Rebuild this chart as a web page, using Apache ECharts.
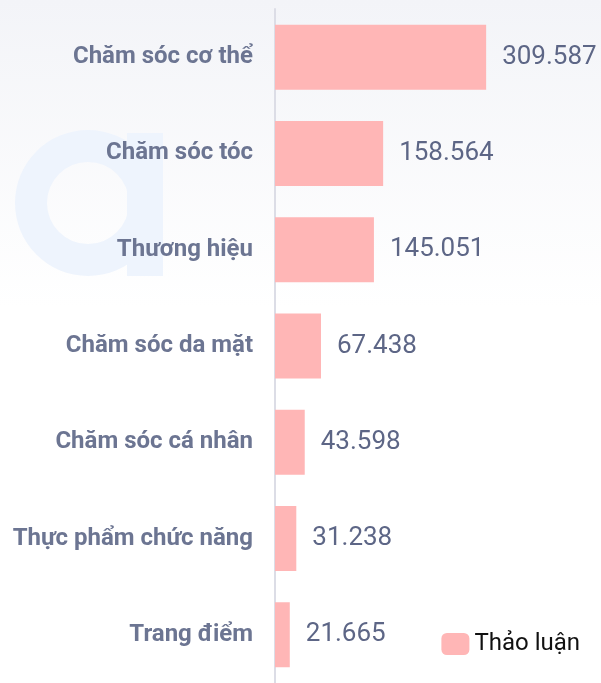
<!DOCTYPE html>
<html>
<head>
<meta charset="utf-8">
<script src="https://cdn.jsdelivr.net/npm/echarts@6/dist/echarts.min.js"></script>
<style>
  html, body { margin: 0; padding: 0; }
  #chart { width: 601px; height: 683px; }
</style>
</head>
<body>
<div id="chart"></div>
<script>
  // danh mục (từ trên xuống)
  const categories = ['Chăm sóc cơ thể', 'Chăm sóc tóc', 'Thương hiệu', 'Chăm sóc da mặt',
    'Chăm sóc cá nhân', 'Thực phẩm chức năng', 'Trang điểm']
  const discussions = [309587, 158564, 145051, 67438, 43598, 31238, 21665]
  const seriesName = 'Thảo luận'

  const chart = echarts.init(document.getElementById('chart'))

  function fmt(v) {
    return String(v).replace(/\B(?=(\d{3})+(?!\d))/g, '.')
  }

  chart.setOption({
    animation: false,
    backgroundColor: {
      type: 'linear', x: 0, y: 0, x2: 0, y2: 1,
      colorStops: [
        { offset: 0, color: '#f3f4f8' },
        { offset: 0.45, color: '#ffffff' },
        { offset: 1, color: '#ffffff' }
      ]
    },
    // chữ "a" mờ phía sau
    graphic: [
      {
        type: 'ring',
        z: -1,
        shape: { cx: 88, cy: 203, r: 73, r0: 41 },
        style: { fill: '#eef4fd' }
      },
      {
        type: 'rect',
        z: -1,
        shape: { x: 127, y: 133, width: 36, height: 143 },
        style: { fill: '#eef4fd' }
      }
    ],
    legend: {
      data: [seriesName],
      right: 16,
      bottom: 22,
      itemWidth: 28,
      itemHeight: 22,
      itemGap: 9,
      textStyle: { fontSize: 24, color: '#111', fontFamily: 'Roboto' }
    },
    grid: {
      left: 275,
      width: 326,
      top: 9,
      height: 679,
      containLabel: false
    },
    xAxis: {
      type: 'value',
      min: 0,
      max: 478000,
      show: false
    },
    yAxis: {
      type: 'category',
      inverse: true,
      data: categories,
      axisLine: { show: true, lineStyle: { color: '#dcdde6', width: 2 } },
      axisTick: { show: false },
      axisLabel: {
        margin: 22,
        fontSize: 24,
        fontWeight: 'bold',
        color: '#6c7592',
        fontFamily: 'Roboto'
      }
    },
    series: [{
      name: seriesName,
      type: 'bar',
      data: discussions,
      barWidth: 65,
      itemStyle: { color: '#ffb6b6' },
      label: {
        show: true,
        position: 'right',
        distance: 16,
        fontSize: 26,
        color: '#5d6686',
        fontFamily: 'Roboto',
        formatter: p => fmt(p.value)
      }
    }]
  })
</script>
</body>
</html>
